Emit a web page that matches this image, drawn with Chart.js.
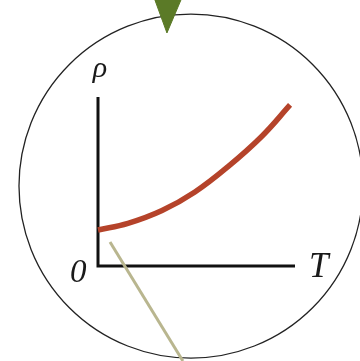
<!DOCTYPE html>
<html>
<head>
<meta charset="utf-8">
<script src="https://cdn.jsdelivr.net/npm/chart.js@4/dist/chart.umd.min.js"></script>
<style>
  html, body { margin: 0; padding: 0; background: #fff; }
  #wrap { width: 360px; height: 361px; }
</style>
</head>
<body>
<div id="wrap"><canvas id="myChart" width="360" height="361"></canvas></div>
<script>
// resistivity vs temperature, values in axis units (T axis and rho axis both run 0..10)
const curveT = [0, 1.52, 3.25, 4.92, 6.6, 8.32, 9.75];
const curveRho = [2.13, 2.52, 3.28, 4.38, 5.88, 7.68, 9.53];

// the two drawn axes
const axisT = [0, 0, 10];
const axisRho = [10, 0, 0];

// pointer line and marker
const pointerT = [0.61, 4.31];
const pointerRho = [1.42, -5.62];
const markerT = [2.89, 3.5, 4.21];
const markerRho = [15.74, 13.79, 15.74];

// lens circle centre
const lensT = [4.72];
const lensRho = [4.73];

const axisLabels = ["ρ", "0", "T"];

const toPoints = (xs, ys) => xs.map((x, i) => ({ x: x, y: ys[i] }));

// view window of the canvas in axis units
const xMin = -4.975, xMax = 13.3;
const yMin = -5.62, yMax = 15.74;

const labelPlugin = {
  id: "axisText",
  afterDatasetsDraw(chart) {
    const ctx = chart.ctx;
    const x = chart.scales.x;
    const y = chart.scales.y;
    ctx.save();
    ctx.fillStyle = "#1a1a1a";
    ctx.textAlign = "center";
    ctx.textBaseline = "alphabetic";
    ctx.font = "italic 30px 'Liberation Serif', serif";
    ctx.fillText(axisLabels[0], x.getPixelForValue(0.1), y.getPixelForValue(11.2));
    ctx.font = "italic 33px 'Liberation Serif', serif";
    ctx.fillText(axisLabels[1], x.getPixelForValue(-1.0), y.getPixelForValue(-0.95));
    ctx.font = "italic 35px 'Liberation Serif', serif";
    ctx.fillText(axisLabels[2], x.getPixelForValue(11.2), y.getPixelForValue(-0.65));
    ctx.restore();
  },
};

const ctx = document.getElementById("myChart").getContext("2d");
const chart = new Chart(ctx, {
  type: "scatter",
  data: {
    datasets: [
      {
        label: "lens",
        data: toPoints(lensT, lensRho),
        pointRadius: 172,
        pointStyle: "circle",
        backgroundColor: "rgba(0,0,0,0)",
        borderColor: "#222",
        borderWidth: 1.3,
        order: 5,
      },
      {
        label: "axes",
        data: toPoints(axisT, axisRho),
        showLine: true,
        borderColor: "#111",
        borderWidth: 3,
        pointRadius: 0,
        order: 3,
      },
      {
        label: "rho(T)",
        data: toPoints(curveT, curveRho),
        showLine: true,
        borderColor: "#b5432a",
        borderWidth: 5.5,
        pointRadius: 0,
        tension: 0.4,
        borderCapStyle: "butt",
        order: 2,
      },
      {
        label: "pointer",
        data: toPoints(pointerT, pointerRho),
        showLine: true,
        borderColor: "#b9b68f",
        borderWidth: 3,
        pointRadius: 0,
        order: 1,
      },
      {
        label: "marker",
        data: toPoints(markerT, markerRho),
        showLine: true,
        borderColor: "#5b7a27",
        backgroundColor: "#5b7a27",
        borderWidth: 1,
        pointRadius: 0,
        fill: { value: yMax },
        order: 0,
      },
    ],
  },
  options: {
    responsive: false,
    animation: false,
    layout: { padding: 0, autoPadding: false },
    plugins: {
      legend: { display: false },
      tooltip: { enabled: false },
    },
    scales: {
      x: { type: "linear", display: false, min: xMin, max: xMax },
      y: { type: "linear", display: false, min: yMin, max: yMax },
    },
  },
  plugins: [labelPlugin],
});
</script>
</body>
</html>
